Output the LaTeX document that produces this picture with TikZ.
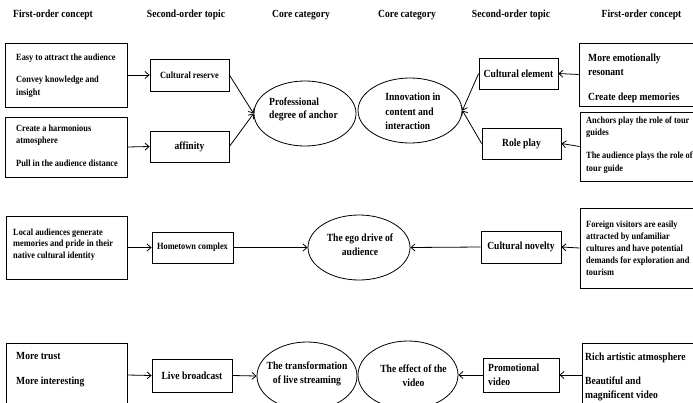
\documentclass[tikz,border=0pt]{standalone}
\usepackage{fontspec}
\setmainfont{Liberation Serif}[FakeStretch=0.88]
\usetikzlibrary{arrows.meta,shapes.geometric}
\begin{document}
\begin{tikzpicture}[x=1pt,y=-1pt,
  box/.style={draw, line width=0.8pt, rectangle, inner sep=0pt},
  oval/.style={draw, line width=0.8pt, ellipse, inner sep=0pt},
  big/.style={font=\fontsize{10.9}{14}\selectfont\bfseries},
  small/.style={font=\fontsize{9.5}{12.5}\selectfont\bfseries},
  txt/.style={inner sep=0pt, align=left, anchor=north west},
  ctxt/.style={inner sep=0pt, align=center},
  arr/.style={-{Straight Barb[length=4pt,width=7pt]}, line width=0.8pt}]
\useasboundingbox (0,0) rectangle (693,402);
\clip (0,0) rectangle (693,402);
% headers
\node[big] (h1) at (53,15) {First-order concept};
\node[big] (h2) at (186,15) {Second-order topic};
\node[big] (h3) at (301,15) {Core category};
\node[big] (h4) at (407,15) {Core category};
\node[big] (h5) at (511,15) {Second-order topic};
\node[big] (h6) at (641.5,15) {First-order concept};
% left first-order boxes
\node[box, minimum width=122pt, minimum height=64pt] (L1) at (66,75) {};
\node[box, minimum width=122pt, minimum height=60pt] (L2) at (66,147) {};
\node[box, minimum width=121pt, minimum height=63pt] (L3) at (66.5,247.5) {};
\node[box, minimum width=121pt, minimum height=64pt] (L4) at (66.5,375) {};
\node[txt, small] (tL1) at (16,53.5) {Easy to attract the audience\\[10pt]Convey knowledge and\\insight};
\node[txt, small] (tL2) at (16,124.5) {Create a harmonious\\atmosphere\\[10pt]Pull in the audience distance};
\node[txt, font=\fontsize{9.5}{11.5}\selectfont\bfseries] (tL3) at (13,228.5) {Local audiences generate\\memories and pride in their\\native cultural identity};
\node[txt, big] (tL4) at (16,352) {More trust\\[11pt]More interesting};
% right first-order boxes
\node[box, minimum width=142pt, minimum height=63pt] (R1) at (650,74.5) {};
\node[box, minimum width=140pt, minimum height=69pt] (R2) at (650,146.5) {};
\node[box, minimum width=140pt, minimum height=80pt] (R3) at (650,248) {};
\node[box, minimum width=138pt, minimum height=64pt] (R4) at (651,375) {};
\node[txt, big] (tR1) at (588,54) {More emotionally\\resonant\\[11pt]Create deep memories};
\node[txt, small] (tR2) at (586,116.5) {Anchors play the role of tour\\guides\\[10.5pt]The audience plays the role of\\tour guide};
\node[txt, font=\fontsize{9.5}{12}\selectfont\bfseries] (tR3) at (586,220.5) {Foreign visitors are easily\\attracted by unfamiliar\\cultures and have potential\\demands for exploration and\\tourism};
\node[txt, big] (tR4) at (585,353) {Rich artistic atmosphere\\[10pt]Beautiful and\\magnificent video};
% second-order boxes
\node[box, small, minimum width=79pt, minimum height=32pt] (CR) at (189.5,75) {Cultural reserve};
\node[box, big, minimum width=79pt, minimum height=31pt] (AF) at (189.5,146.5) {affinity};
\node[box, small, minimum width=81pt, minimum height=31pt] (HC) at (192.5,247.5) {Hometown complex};
\node[box, big, minimum width=80pt, minimum height=33pt] (LB) at (192,375.5) {Live broadcast};
\node[box, big, minimum width=79pt, minimum height=31pt] (CE) at (518.5,73.5) {Cultural element};
\node[box, big, minimum width=79pt, minimum height=31pt] (RP) at (521.5,143.5) {Role play};
\node[box, big, minimum width=80pt, minimum height=32pt] (CN) at (521,247) {Cultural novelty};
\node[box, minimum width=76pt, minimum height=34pt] (PV) at (521,375) {};
\node[txt, big, anchor=west] (tPV) at (488,375) {Promotional\\video};
% core categories
\node[oval, minimum width=102pt, minimum height=65pt] (PR) at (305,113.5) {};
\node[oval, minimum width=104pt, minimum height=65pt] (IN) at (410,110.5) {};
\node[oval, minimum width=102pt, minimum height=65pt] (EG) at (359,247.5) {};
\node[oval, minimum width=100pt, minimum height=68pt] (TR) at (307,376) {};
\node[oval, minimum width=100pt, minimum height=68pt] (EF) at (408,375) {};
\node[txt, big, anchor=center, font=\fontsize{10.9}{13}\selectfont\bfseries] (tPR) at (303.5,109.5) {Professional\\degree of anchor};
\node[txt, big, anchor=center, font=\fontsize{10.9}{14.5}\selectfont\bfseries] (tIN) at (413,111.5) {Innovation in\\content and\\interaction};
\node[ctxt, big] (tEG) at (360,245) {The ego drive of\\audience};
\node[ctxt, big] (tTR) at (307,374) {The transformation\\of live streaming};
\node[ctxt, big] (tEF) at (413.5,376) {The effect of the\\video};
% connectors
\draw[arr] (L1.east) -- (CR.west);
\draw[arr] (L2.east) -- (AF.west);
\draw[arr] (CR.east) -- (PR.west);
\draw[arr] (AF.east) -- (PR.west);
\draw[arr] (R1.west) -- (CE.east);
\draw[arr] (R2.west) -- (RP.east);
\draw[arr] (CE.west) -- (IN.east);
\draw[arr] (RP.west) -- (IN.east);
\draw[arr] (L3.east) -- (HC.west);
\draw[arr] (HC.east) -- (EG.west);
\draw[arr] (R3.west) -- (CN.east);
\draw[arr] (CN.west) -- (EG.east);
\draw[arr] (L4.east) -- (LB.west);
\draw[arr] (LB.east) -- (TR.west);
\draw[arr] (R4.west) -- (PV.east);
\draw[arr] (PV.west) -- (EF.east);
\end{tikzpicture}
\end{document}
